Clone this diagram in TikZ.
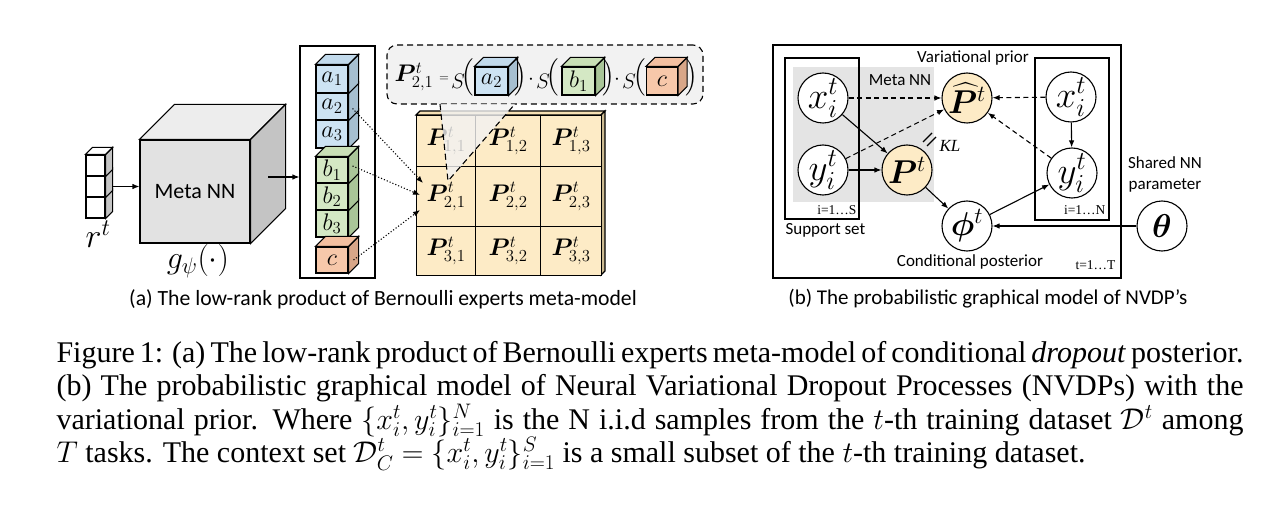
\RequirePackage{fix-cm}
\documentclass[tikz,border=0pt]{standalone}
\usepackage{amsmath,bm}
\usepackage{fontspec}
\setmainfont{Liberation Serif}
\newfontfamily\calib{Carlito}
\usetikzlibrary{arrows.meta}
\definecolor{bluef}{HTML}{CDE3F3}
\definecolor{bluet}{HTML}{C2DAEC}
\definecolor{blues}{HTML}{A6BFD0}
\definecolor{greenf}{HTML}{D4E8C4}
\definecolor{greent}{HTML}{C9E0B6}
\definecolor{greens}{HTML}{A9C598}
\definecolor{oranf}{HTML}{F7C8AA}
\definecolor{orant}{HTML}{F3BFA0}
\definecolor{orans}{HTML}{D8A688}
\definecolor{grayf}{HTML}{E2E2E2}
\definecolor{grayt}{HTML}{EDEDED}
\definecolor{grays}{HTML}{C4C4C4}
\definecolor{yel}{HTML}{FDEBC6}
\definecolor{yelt}{HTML}{F6E0B4}
\definecolor{yels}{HTML}{CDBB92}
\definecolor{pale}{HTML}{F2F2F2}
\definecolor{regiongray}{HTML}{E4E4E4}
\newcommand{\cubetop}[3]{\filldraw[fill=#3] (#1.north west) -- ++(#2,-#2) -- ([shift={(#2,-#2)}]#1.north east) -- (#1.north east) -- cycle;}
\newcommand{\cubeside}[3]{\filldraw[fill=#3] (#1.north east) -- ++(#2,-#2) -- ([shift={(#2,-#2)}]#1.south east) -- (#1.south east) -- cycle;}
\begin{document}
\begin{tikzpicture}[x=1pt,y=-1pt,line width=1.1pt,
  front/.style={draw,inner sep=0pt,rectangle,font=\fontsize{24}{28}\selectfont},
  cellbox/.style={draw,fill=yel,inner sep=0pt,anchor=north west,font=\fontsize{24}{28}\selectfont},
  eqt/.style={inner sep=0pt,font=\fontsize{21}{25}\selectfont},
  lab/.style={inner sep=0pt,font=\calib\fontsize{17}{20}\selectfont},
  small/.style={inner sep=0pt,font=\fontsize{13.5}{16}\selectfont},
  circ/.style={draw,circle,minimum size=50pt,inner sep=0pt,fill=white,font=\fontsize{37}{40}\selectfont},
  circb/.style={circ,font=\fontsize{33}{36}\selectfont},
  arr/.style={-{Latex[length=7pt,width=5.5pt]}},
  darr/.style={-{Latex[length=7pt,width=5.5pt]},dash pattern=on 5pt off 3.5pt},
  dotarr/.style={-{Latex[length=7pt,width=5.5pt]},dotted,line width=1.1pt}]
\useasboundingbox (0,0) rectangle (1280,505);
% ---------------- (a) ----------------
% input vector r^t
\node[front,fill=white,minimum width=19pt,minimum height=21pt] (v1) at (95.5,165.5) {};
\node[front,fill=white,minimum width=19pt,minimum height=21pt] (v2) at (95.5,186.5) {};
\node[front,fill=white,minimum width=19pt,minimum height=21pt] (v3) at (95.5,207.5) {};
\cubeside{v3}{7}{grays}\cubeside{v2}{7}{grays}\cubeside{v1}{7}{grays}
\cubetop{v1}{7}{white}
\node[inner sep=0pt,font=\fontsize{34}{38}\selectfont] (rt) at (98,234) {$r^t$};
% meta NN cube
\node[front,fill=grayf,minimum width=110pt,minimum height=103pt,font=\calib\fontsize{22}{26}\selectfont] (meta) at (195,191.5) {Meta NN};
\cubetop{meta}{35}{grayt}
\cubeside{meta}{35}{grays}
\node[inner sep=0pt,font=\fontsize{32}{36}\selectfont] (g) at (198,261) {$g_\psi(\cdot)$};
\draw[arr] (v2.east -| 112,0) -- (v2.east -| meta.west);
% box with experts
\node[draw,minimum width=75pt,minimum height=232pt,inner sep=0pt] (box) at (337.5,162) {};
\coordinate (m1) at (268,177);
\draw[arr] (m1) -- (m1 -| box.west);
\node[front,fill=bluef,minimum width=32pt,minimum height=28pt] (a3) at (332,134) {$a_3$};
\node[front,fill=bluef,minimum width=32pt,minimum height=27pt] (a2) at (332,106.5) {$a_2$};
\node[front,fill=bluef,minimum width=32pt,minimum height=28pt] (a1) at (332,79) {$a_1$};
\cubeside{a3}{10}{blues}\cubeside{a2}{10}{blues}\cubeside{a1}{10}{blues}
\cubetop{a1}{10}{bluet}
\node[front,fill=greenf,minimum width=32pt,minimum height=27pt] (b3) at (332,223.5) {$b_3$};
\node[front,fill=greenf,minimum width=32pt,minimum height=27pt] (b2) at (332,196.5) {$b_2$};
\node[front,fill=greenf,minimum width=32pt,minimum height=26pt] (b1) at (332,170) {$b_1$};
\cubeside{b3}{10}{greens}\cubeside{b2}{10}{greens}\cubeside{b1}{10}{greens}
\cubetop{b1}{10}{greent}
\node[front,fill=oranf,minimum width=32pt,minimum height=26pt] (c) at (332,260) {$c$};
\cubeside{c}{10}{orans}\cubetop{c}{10}{orant}
% callout with equation
\node[draw,fill=pale,rounded corners=10pt,dash pattern=on 6pt off 4pt,minimum width=316pt,minimum height=59pt,inner sep=0pt] (callout) at (545,74.5) {};
\node[inner sep=0pt,font=\fontsize{24}{28}\selectfont] (eqP) at (414,77) {$\bm{P}^t_{2,1}$};
\node[inner sep=0pt,font=\fontsize{13}{16}\selectfont] (eqeq) at (444,79) {$=$};
\node[eqt] (s1) at (458,81) {$S$};
\node[eqt] (l1) at (468,77) {$\Big($};
\node[front,fill=bluef,minimum width=33pt,minimum height=28pt] (ea) at (491.5,81) {$a_2$};
\cubeside{ea}{9}{blues}\cubetop{ea}{9}{bluet}
\node[eqt] (r1) at (521,77) {$\Big)$};
\node[eqt] (d1) at (531,80) {$\cdot$};
\node[eqt] (s2) at (543,81) {$S$};
\node[eqt] (l2) at (553,77) {$\Big($};
\node[front,fill=greenf,minimum width=33pt,minimum height=28pt] (eb) at (578.5,81) {$b_1$};
\cubeside{eb}{9}{greens}\cubetop{eb}{9}{greent}
\node[eqt] (r2) at (609,77) {$\Big)$};
\node[eqt] (d2) at (617,80) {$\cdot$};
\node[eqt] (s3) at (629,81) {$S$};
\node[eqt] (l3) at (640,77) {$\Big($};
\node[front,fill=oranf,minimum width=31pt,minimum height=28pt] (ec) at (662,81) {$c$};
\cubeside{ec}{9}{orans}\cubetop{ec}{9}{orant}
\node[eqt] (r3) at (692,77) {$\Big)$};
% matrix
\filldraw[fill=yelt] (416,115) -- (420,111) -- (605,111) -- (601,115) -- cycle;
\filldraw[fill=yels] (601,115) -- (605,111) -- (605,271) -- (601,275) -- cycle;
\node[cellbox,minimum width=59pt,minimum height=51pt] (c11) at (416,115) {$\bm{P}^t_{1,1}$};
\node[cellbox,minimum width=65pt,minimum height=51pt] (c12) at (475,115) {$\bm{P}^t_{1,2}$};
\node[cellbox,minimum width=61pt,minimum height=51pt] (c13) at (540,115) {$\bm{P}^t_{1,3}$};
\node[cellbox,minimum width=59pt,minimum height=60pt] (c21) at (416,166) {$\bm{P}^t_{2,1}$};
\node[cellbox,minimum width=65pt,minimum height=60pt] (c22) at (475,166) {$\bm{P}^t_{2,2}$};
\node[cellbox,minimum width=61pt,minimum height=60pt] (c23) at (540,166) {$\bm{P}^t_{2,3}$};
\node[cellbox,minimum width=59pt,minimum height=49pt] (c31) at (416,226) {$\bm{P}^t_{3,1}$};
\node[cellbox,minimum width=65pt,minimum height=49pt] (c32) at (475,226) {$\bm{P}^t_{3,2}$};
\node[cellbox,minimum width=61pt,minimum height=49pt] (c33) at (540,226) {$\bm{P}^t_{3,3}$};
% callout pointer
\coordinate (tl) at (440,104);
\coordinate (tr) at (515,104);
\coordinate (tip) at (448,181);
\fill[pale,opacity=0.8] (tl) -- (tr) -- (tip) -- cycle;
\draw[dash pattern=on 6pt off 4pt] (tl) -- (tip) -- (tr);
% dotted arrows
\coordinate (e1) at (423,183);
\coordinate (e2) at (420,195);
\coordinate (e3) at (420,210);
\draw[dotarr] ([xshift=4pt,yshift=-2pt]a2.east) -- (e1);
\draw[dotarr] ([xshift=4pt,yshift=4pt]b1.east) -- (e2);
\draw[dotarr] ([xshift=5pt]c.east) -- (e3);
\node[inner sep=0pt,font=\calib\fontsize{21.7}{25}\selectfont] (capa) at (383,299) {(a) The low-rank product of Bernoulli experts meta-model};
% ---------------- (b) ----------------
\node[draw,minimum width=348pt,minimum height=233pt,inner sep=0pt] (outer) at (947,161.5) {};
\fill[regiongray] (793,67) rectangle (934,202);
\node[draw,minimum width=74pt,minimum height=161pt,inner sep=0pt] (sbox) at (822,138.5) {};
\node[draw,minimum width=74pt,minimum height=162pt,inner sep=0pt] (qbox) at (1072,139) {};
\node[lab] (metab) at (900,80) {Meta NN};
\node[circ] (xs) at (823,98) {$x_i^t$};
\node[circ] (ys) at (823,170) {$y_i^t$};
\node[circb,fill=yel] (P) at (907,170) {$\bm{P}^t$};
\node[circb,fill=yel] (Ph) at (967,98) {$\widehat{\bm{P}}^t$};
\node[circb] (phi) at (967,226) {$\bm{\phi}^t$};
\node[circ] (xq) at (1071,97) {$x_i^t$};
\node[circ] (yq) at (1072,173) {$y_i^t$};
\node[circb] (th) at (1162,226) {$\bm{\theta}$};
\draw[darr] (xs) -- (Ph);
\draw[arr] (xs) -- (P);
\draw[darr] (ys) -- (Ph);
\draw[arr] (ys) -- (P);
\draw[arr] (P) -- (phi);
\draw[arr] (phi) -- (yq);
\draw[darr] (xq) -- (Ph);
\draw[darr] (yq) -- (Ph);
\draw[arr] (xq) -- (yq);
\draw[arr] (th) -- (phi);
\draw (923,142) -- (932,133);
\draw (927,146) -- (936,137);
\node[inner sep=0pt,font=\fontsize{17}{20}\selectfont\itshape] (kl) at (950,146) {KL};
\node[lab] (vp) at (973,58) {Variational prior};
\node[lab] (cp) at (970,262) {Conditional posterior};
\node[lab,anchor=west] (ss) at (785,230) {Support set};
\node[small,anchor=east] (is) at (857,210) {i=1\ldots S};
\node[small,anchor=east] (in) at (1106,210) {i=1\ldots N};
\node[small,anchor=east] (it) at (1116,265) {t=1\ldots T};
\node[lab] (sh1) at (1165,163) {Shared NN};
\node[lab] (sh2) at (1165,185) {parameter};
\node[inner sep=0pt,font=\calib\fontsize{21}{25}\selectfont] (capb) at (988,299) {(b) The probabilistic graphical model of NVDP’s};
% ---------------- caption ----------------
\node[anchor=north west,inner sep=0pt,text width=1187pt,align=justify,font=\fontsize{30}{33.3}\selectfont] (cap) at (56,341) {Figure 1: (a) The low-rank product of Bernoulli experts meta-model of conditional \emph{dropout} posterior.\linebreak (b) The probabilistic graphical model of Neural Variational Dropout Processes (NVDPs) with the\linebreak variational prior. Where $\{x_i^t, y_i^t\}_{i=1}^N$ is the N i.i.d samples from the $t$-th training dataset $\mathcal{D}^t$ among\linebreak $T$ tasks. The context set $\mathcal{D}_C^t = \{x_i^t, y_i^t\}_{i=1}^S$ is a small subset of the $t$-th training dataset.};
\end{tikzpicture}
\end{document}
